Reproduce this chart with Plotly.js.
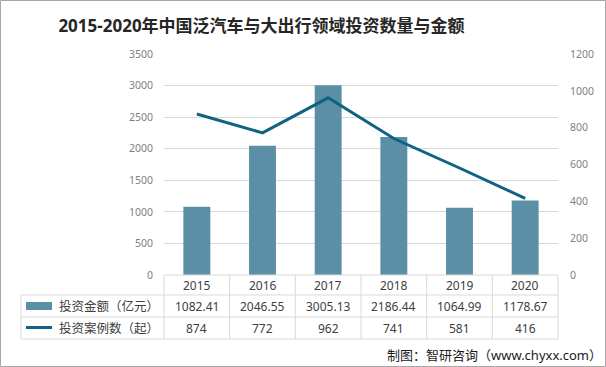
<!DOCTYPE html>
<html><head><meta charset="utf-8">
<script src="https://cdn.plot.ly/plotly-3.0.1.min.js"></script>
<style>html,body{margin:0;padding:0;background:#fff;}#chart{width:606px;height:367px;}</style>
</head><body><div id="chart"></div>
<script>
var years = ['2015','2016','2017','2018','2019','2020'];
var amount = [1082.41, 2046.55, 3005.13, 2186.44, 1064.99, 1178.67];
var cases = [874, 772, 962, 741, 581, 416];
var amountLabels = ['1082.41','2046.55','3005.13','2186.44','1064.99','1178.67'];
var caseLabels = ['874','772','962','741','581','416'];
var seriesNames = ['投资金额（亿元）','投资案例数（起）'];
var titleText = '2015-2020年中国泛汽车与大出行领域投资数量与金额';
var sourceText = '制图：智研咨询（www.chyxx.com）';

var W = 606, H = 367, L = 164, R = 558, T = 54, B = 275;
function px(x){ return (x - L) / (R - L); }
function py(y){ return (B - y) / (B - T); }

var barColor = '#5b8fa6', lineColor = '#0f6283', gridColor = '#d9d9d9';
var font = 'Noto Sans, Noto Sans CJK SC, sans-serif';
var textColor = '#404040';

var shapes = [];
var annotations = [];
var gl = {color: gridColor, width: 1};
shapes.push({type:'line', xref:'paper', yref:'paper', x0:px(L), x1:px(R), y0:py(275), y1:py(275), line:gl});
[295, 317, 339].forEach(function(y){
  shapes.push({type:'line', xref:'paper', yref:'paper', x0:px(21), x1:px(R), y0:py(y), y1:py(y), line:gl});
});
shapes.push({type:'line', xref:'paper', yref:'paper', x0:px(21), x1:px(21), y0:py(295), y1:py(339), line:gl});
for (var i = 0; i <= years.length; i++) {
  var xx = L + (R - L) * i / years.length;
  shapes.push({type:'line', xref:'paper', yref:'paper', x0:px(xx), x1:px(xx), y0:py(275), y1:py(339), line:gl});
}
shapes.push({type:'rect', xref:'paper', yref:'paper', x0:px(26), x1:px(52), y0:py(310), y1:py(302), fillcolor:barColor, line:{width:0}});
shapes.push({type:'line', xref:'paper', yref:'paper', x0:px(26), x1:px(52), y0:py(327.5), y1:py(327.5), line:{color:lineColor, width:3}});
shapes.push({type:'rect', xref:'paper', yref:'paper', x0:px(0.5), x1:px(605.5), y0:py(366.5), y1:py(0.5), line:{color:'#a6a6a6', width:1}});

function ann(o){ o.showarrow = false; o.yanchor = 'middle'; if (!o.xanchor) o.xanchor = 'center'; return o; }
years.forEach(function(y, i){
  annotations.push(ann({xref:'x', yref:'paper', x:i, y:py(285.5), text:y, font:{family:font, size:12, color:textColor}}));
  annotations.push(ann({xref:'x', yref:'paper', x:i, y:py(306.5), text:amountLabels[i], font:{family:font, size:12, color:textColor}}));
  annotations.push(ann({xref:'x', yref:'paper', x:i, y:py(328.5), text:caseLabels[i], font:{family:font, size:12, color:textColor}}));
});
annotations.push(ann({xref:'paper', yref:'paper', x:px(57), y:py(306), xanchor:'left', text:seriesNames[0], font:{family:font, size:12.5, color:textColor}}));
annotations.push(ann({xref:'paper', yref:'paper', x:px(57), y:py(328), xanchor:'left', text:seriesNames[1], font:{family:font, size:12.5, color:textColor}}));
annotations.push(ann({xref:'paper', yref:'paper', x:px(604), y:py(355), xanchor:'right', text:sourceText, font:{family:font, size:13, color:'#1a1a1a'}}));

var data = [
  {type:'bar', x:years, y:amount, name:seriesNames[0], marker:{color:barColor}, yaxis:'y', hoverinfo:'none'},
  {type:'scatter', mode:'lines', x:years, y:cases, name:seriesNames[1], line:{color:lineColor, width:3}, yaxis:'y2', hoverinfo:'none'}
];

var layout = {
  width: W, height: H,
  margin: {l: L, r: W - R, t: T, b: H - B, pad: 0},
  paper_bgcolor: '#fff', plot_bgcolor: '#fff',
  showlegend: false,
  bargap: 0.59,
  title: {text: '<b>' + titleText + '</b>', x: 261.5 / W, xref: 'container', xanchor: 'center', y: 1 - 26 / H, yref: 'container', yanchor: 'middle', font: {family: font, size: 17, color: '#262626'}},
  xaxis: {type:'category', range:[-0.5, 5.5], showticklabels:false, showgrid:false, zeroline:false, showline:false, ticks:''},
  yaxis: {range:[0, 3500], dtick:500, showgrid:true, gridcolor:gridColor, gridwidth:1, zeroline:false, showline:false, ticks:'', ticklabelstandoff:10, tickfont:{family:font, size:10.5, color:'#7f7f7f'}},
  yaxis2: {range:[0, 1200], dtick:200, overlaying:'y', side:'right', showgrid:false, zeroline:false, showline:false, ticks:'', ticklabelstandoff:11, tickfont:{family:font, size:10.5, color:'#7f7f7f'}},
  shapes: shapes,
  annotations: annotations
};
Plotly.newPlot('chart', data, layout, {staticPlot:true, displayModeBar:false});
</script></body></html>
